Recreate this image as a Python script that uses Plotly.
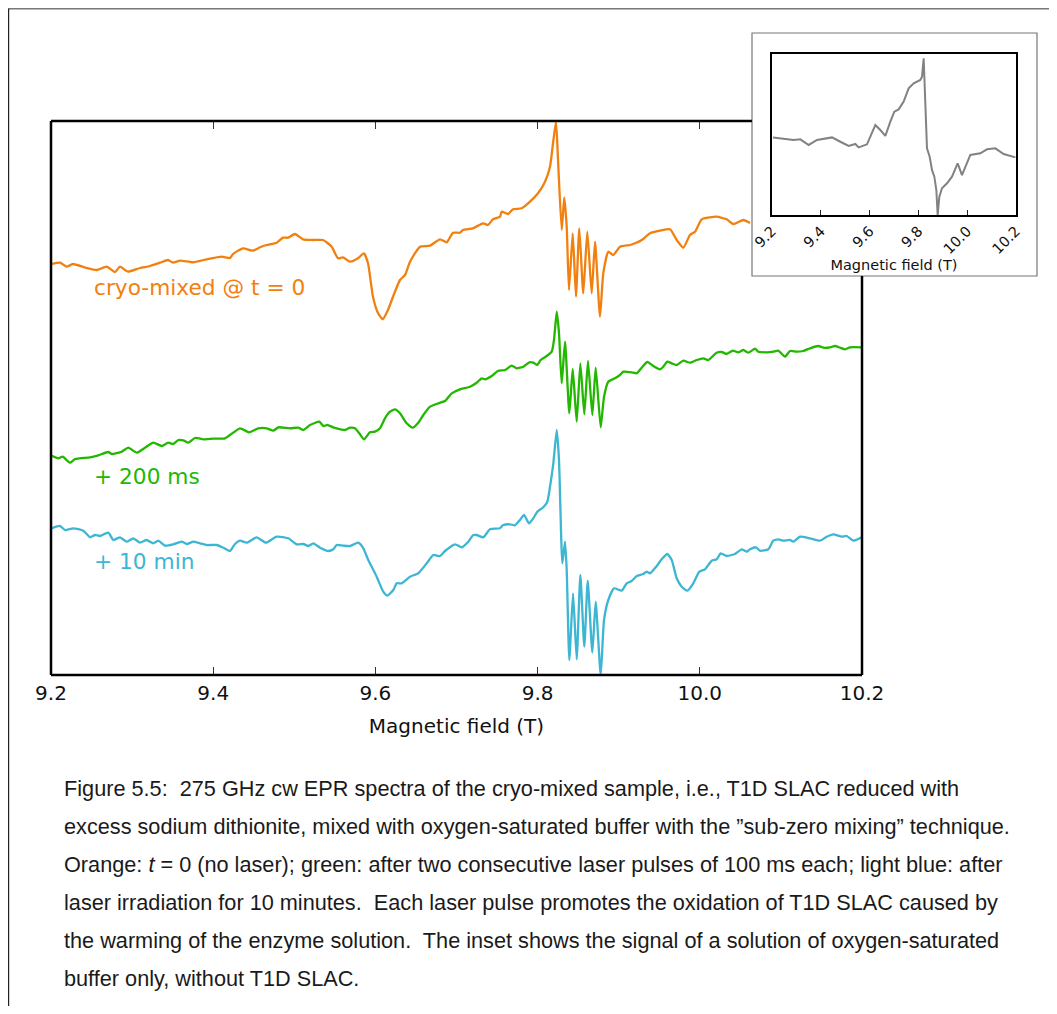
import plotly.graph_objects as go

# The page has an 8 px body margin; the figure is sized to fill the rest of the
# 1057x1014 window exactly, spanning page pixels 8..1049 and 8..1006.
FW, FH, OFF = 1041, 998, 8


def px(x):
    return (x - OFF) / FW


def py(y):
    return 1 - (y - OFF) / FH


# ---------------- data (field in T, signal in arbitrary units) ----------------
field_orange = [9.2009, 9.2111, 9.2194, 9.2271, 9.2440, 9.2564, 9.2687, 9.2789, 9.2851, 9.2949,
                9.3097, 9.3221, 9.3344, 9.3443, 9.3504, 9.3591, 9.3751, 9.3920, 9.4105, 9.4207,
                9.4244, 9.4367, 9.4491, 9.4577, 9.4660, 9.4783, 9.4861, 9.4922, 9.5009, 9.5107,
                9.5231, 9.5354, 9.5461, 9.5539, 9.5600, 9.5687, 9.5785, 9.5859, 9.5909, 9.5970,
                9.6032, 9.6090, 9.6155, 9.6217, 9.6303, 9.6365, 9.6427, 9.6550, 9.6673, 9.6797,
                9.6879, 9.6957, 9.7043, 9.7080, 9.7203, 9.7327, 9.7388, 9.7450, 9.7536, 9.7557,
                9.7635, 9.7697, 9.7804, 9.7906, 9.8005, 9.8091, 9.8153, 9.8190, 9.8227, 9.8252,
                9.8297, 9.8329, 9.8359, 9.8387, 9.8433, 9.8473, 9.8514, 9.8563, 9.8613, 9.8667,
                9.8708, 9.8769, 9.8810, 9.8872, 9.8933, 9.9016, 9.9139, 9.9201, 9.9284, 9.9386,
                9.9509, 9.9633, 9.9715, 9.9797, 9.9879, 9.9941, 10.0023, 10.0126, 10.0208, 10.0332,
                10.0413, 10.0536, 10.0619]
sig_orange = [4.110, 4.123, 4.083, 4.110, 4.070, 4.050, 4.083, 4.030, 4.083, 4.033,
              4.070, 4.090, 4.123, 4.150, 4.123, 4.143, 4.127, 4.157, 4.183, 4.170,
              4.210, 4.267, 4.243, 4.277, 4.300, 4.323, 4.373, 4.373, 4.410, 4.357,
              4.350, 4.350, 4.283, 4.167, 4.177, 4.133, 4.167, 4.217, 4.117, 3.783,
              3.620, 3.557, 3.650, 3.783, 3.950, 4.000, 4.133, 4.283, 4.293, 4.357,
              4.327, 4.423, 4.423, 4.450, 4.467, 4.517, 4.500, 4.557, 4.583, 4.633,
              4.610, 4.657, 4.667, 4.733, 4.817, 4.933, 5.083, 5.317, 5.533, 5.150,
              4.450, 4.777, 4.483, 3.850, 4.417, 3.783, 4.467, 3.817, 4.433, 3.817,
              4.333, 3.583, 4.017, 4.233, 4.200, 4.283, 4.300, 4.317, 4.350, 4.417,
              4.443, 4.457, 4.350, 4.273, 4.400, 4.433, 4.557, 4.577, 4.583, 4.557,
              4.510, 4.550, 4.520]

field_green = [9.2009, 9.2090, 9.2144, 9.2234, 9.2296, 9.2481, 9.2583, 9.2707, 9.2748, 9.2872,
               9.2953, 9.3057, 9.3159, 9.3261, 9.3365, 9.3446, 9.3508, 9.3570, 9.3631, 9.3693,
               9.3776, 9.3878, 9.4001, 9.4146, 9.4330, 9.4445, 9.4556, 9.4660, 9.4741, 9.4803,
               9.4947, 9.5049, 9.5111, 9.5194, 9.5308, 9.5358, 9.5407, 9.5481, 9.5625, 9.5687,
               9.5748, 9.5801, 9.5859, 9.5933, 9.5995, 9.6057, 9.6118, 9.6180, 9.6242, 9.6303,
               9.6386, 9.6460, 9.6529, 9.6591, 9.6673, 9.6776, 9.6858, 9.6941, 9.7043, 9.7166,
               9.7249, 9.7311, 9.7351, 9.7434, 9.7515, 9.7598, 9.7681, 9.7742, 9.7824, 9.7898,
               9.7947, 9.7996, 9.8038, 9.8112, 9.8174, 9.8202, 9.8236, 9.8264, 9.8297, 9.8338,
               9.8391, 9.8433, 9.8482, 9.8527, 9.8576, 9.8621, 9.8675, 9.8716, 9.8778, 9.8819,
               9.8872, 9.8954, 9.9016, 9.9057, 9.9160, 9.9222, 9.9284, 9.9353, 9.9427, 9.9509,
               9.9550, 9.9599, 9.9654, 9.9715, 9.9797, 9.9879, 9.9962, 10.0043, 10.0105, 10.0208,
               10.0270, 10.0332, 10.0406, 10.0475, 10.0536, 10.0598, 10.0681, 10.0721, 10.0825, 10.0906,
               10.0968, 10.1051, 10.1112, 10.1195, 10.1276, 10.1359, 10.1461, 10.1523, 10.1606, 10.1667,
               10.1729, 10.1791, 10.1852, 10.1996]
sig_green = [2.193, 2.167, 2.183, 2.123, 2.160, 2.177, 2.197, 2.230, 2.210, 2.233,
             2.273, 2.223, 2.273, 2.323, 2.290, 2.323, 2.310, 2.350, 2.347, 2.323,
             2.370, 2.357, 2.363, 2.367, 2.467, 2.427, 2.467, 2.467, 2.443, 2.477,
             2.467, 2.473, 2.450, 2.500, 2.533, 2.490, 2.500, 2.477, 2.450, 2.473,
             2.467, 2.417, 2.357, 2.427, 2.433, 2.467, 2.567, 2.633, 2.657, 2.617,
             2.517, 2.473, 2.523, 2.600, 2.683, 2.717, 2.740, 2.817, 2.857, 2.883,
             2.923, 2.967, 2.957, 2.990, 3.043, 3.050, 3.093, 3.067, 3.083, 3.127,
             3.123, 3.100, 3.150, 3.190, 3.233, 3.350, 3.633, 3.417, 2.917, 3.333,
             2.617, 3.060, 2.533, 3.117, 2.607, 3.140, 2.600, 3.073, 2.477, 2.783,
             2.933, 2.967, 3.000, 3.033, 3.027, 3.017, 3.073, 3.130, 3.090, 3.057,
             3.083, 3.133, 3.117, 3.100, 3.143, 3.123, 3.150, 3.167, 3.150, 3.223,
             3.230, 3.210, 3.243, 3.227, 3.250, 3.223, 3.263, 3.233, 3.227, 3.233,
             3.243, 3.183, 3.240, 3.233, 3.240, 3.267, 3.290, 3.273, 3.277, 3.290,
             3.273, 3.257, 3.277, 3.277]

field_blue = [9.2009, 9.2111, 9.2173, 9.2275, 9.2398, 9.2481, 9.2543, 9.2604, 9.2707, 9.2768,
              9.2851, 9.2933, 9.3015, 9.3097, 9.3180, 9.3261, 9.3323, 9.3406, 9.3508, 9.3612,
              9.3673, 9.3755, 9.3837, 9.3920, 9.4043, 9.4125, 9.4207, 9.4269, 9.4330, 9.4413,
              9.4536, 9.4651, 9.4783, 9.4926, 9.5030, 9.5111, 9.5173, 9.5234, 9.5317, 9.5419,
              9.5481, 9.5523, 9.5604, 9.5687, 9.5789, 9.5851, 9.5912, 9.6016, 9.6097, 9.6147,
              9.6221, 9.6263, 9.6324, 9.6427, 9.6529, 9.6633, 9.6714, 9.6797, 9.6858, 9.6982,
              9.7064, 9.7146, 9.7207, 9.7249, 9.7331, 9.7413, 9.7536, 9.7577, 9.7660, 9.7721,
              9.7783, 9.7832, 9.7894, 9.7947, 9.7996, 9.8070, 9.8120, 9.8153, 9.8194, 9.8236,
              9.8264, 9.8305, 9.8338, 9.8359, 9.8391, 9.8437, 9.8482, 9.8527, 9.8576, 9.8618,
              9.8675, 9.8716, 9.8778, 9.8819, 9.8872, 9.8942, 9.9037, 9.9099, 9.9160, 9.9222,
              9.9303, 9.9345, 9.9386, 9.9469, 9.9530, 9.9599, 9.9654, 9.9715, 9.9777, 9.9846,
              9.9920, 9.9994, 10.0064, 10.0147, 10.0208, 10.0258, 10.0332, 10.0434, 10.0517, 10.0578,
              10.0619, 10.0693, 10.0742, 10.0845, 10.0906, 10.0968, 10.1030, 10.1112, 10.1153, 10.1236,
              10.1359, 10.1482, 10.1565, 10.1646, 10.1750, 10.1812, 10.1894, 10.1996]
sig_blue = [1.467, 1.490, 1.450, 1.467, 1.443, 1.377, 1.400, 1.390, 1.423, 1.350,
            1.377, 1.333, 1.367, 1.323, 1.350, 1.317, 1.343, 1.293, 1.307, 1.333,
            1.310, 1.333, 1.317, 1.300, 1.300, 1.273, 1.240, 1.310, 1.343, 1.323,
            1.377, 1.323, 1.383, 1.367, 1.307, 1.310, 1.290, 1.317, 1.273, 1.240,
            1.257, 1.300, 1.293, 1.290, 1.323, 1.267, 1.150, 0.983, 0.833, 0.793,
            0.850, 0.917, 0.917, 0.983, 1.017, 1.117, 1.200, 1.190, 1.240, 1.307,
            1.277, 1.333, 1.400, 1.400, 1.377, 1.457, 1.467, 1.500, 1.507, 1.497,
            1.550, 1.600, 1.517, 1.567, 1.633, 1.677, 1.733, 1.883, 2.117, 2.450,
            2.150, 1.117, 1.333, 1.050, 0.150, 0.817, 0.157, 1.000, 0.283, 0.943,
            0.223, 0.733, 0.000, 0.550, 0.750, 0.867, 0.843, 0.917, 0.940, 0.990,
            1.010, 1.033, 1.017, 1.090, 1.157, 1.210, 1.150, 0.967, 0.883, 0.843,
            0.917, 1.033, 1.057, 1.143, 1.157, 1.217, 1.190, 1.210, 1.257, 1.233,
            1.257, 1.277, 1.243, 1.257, 1.343, 1.357, 1.343, 1.350, 1.333, 1.383,
            1.367, 1.343, 1.383, 1.407, 1.383, 1.390, 1.343, 1.377]

field_inset = [9.2041, 9.2478, 9.2888, 9.3161, 9.3503, 9.3844, 9.4459, 9.4801, 9.5142, 9.5415,
               9.5552, 9.5893, 9.6030, 9.6235, 9.6440, 9.6645, 9.6850, 9.7014, 9.7191, 9.7396,
               9.7601, 9.7806, 9.8079, 9.8148, 9.8216, 9.8270, 9.8352, 9.8462, 9.8557, 9.8653,
               9.8735, 9.8790, 9.8858, 9.8967, 9.9172, 9.9377, 9.9514, 9.9609, 9.9787, 9.9992,
               10.0128, 10.0538, 10.0811, 10.1153, 10.1495, 10.1973]
sig_inset = [0.482, 0.476, 0.466, 0.470, 0.435, 0.466, 0.482, 0.455, 0.429, 0.441,
             0.420, 0.439, 0.487, 0.559, 0.528, 0.491, 0.580, 0.642, 0.656, 0.704,
             0.787, 0.818, 0.839, 0.859, 0.973, 0.787, 0.414, 0.362, 0.280, 0.238,
             0.155, 0.000, 0.114, 0.166, 0.197, 0.238, 0.290, 0.321, 0.248, 0.331,
             0.373, 0.383, 0.408, 0.414, 0.379, 0.358]

tick_vals = [9.2, 9.4, 9.6, 9.8, 10.0, 10.2]
tick_text = ["9.2", "9.4", "9.6", "9.8", "10.0", "10.2"]

series_labels = ["cryo-mixed @ t = 0", "+ 200 ms", "+ 10 min"]

caption_lines = [
    "Figure 5.5:  275 GHz cw EPR spectra of the cryo-mixed sample, i.e., T1D SLAC reduced with",
    "excess sodium dithionite, mixed with oxygen-saturated buffer with the \u201dsub-zero mixing\u201d technique.",
    "Orange: <i>t</i> = 0 (no laser); green: after two consecutive laser pulses of 100 ms each; light blue: after",
    "laser irradiation for 10 minutes.  Each laser pulse promotes the oxidation of T1D SLAC caused by",
    "the warming of the enzyme solution.  The inset shows the signal of a solution of oxygen-saturated",
    "buffer only, without T1D SLAC.",
]

ORANGE = "#f2800f"
GREEN = "#22b800"
BLUE = "#3db6d3"
GRAY = "#828282"

AX_FONT = "DejaVu Sans"
CAP_FONT = "Liberation Sans"

fig = go.Figure()
for fx, sy, col in [(field_orange, sig_orange, ORANGE),
                    (field_green, sig_green, GREEN),
                    (field_blue, sig_blue, BLUE)]:
    fig.add_trace(go.Scatter(x=fx, y=sy, mode="lines",
                             line=dict(color=col, width=2.3, shape="spline", smoothing=0.5),
                             xaxis="x", yaxis="y", showlegend=False, hoverinfo="skip"))
fig.add_trace(go.Scatter(x=field_inset, y=sig_inset, mode="lines", line=dict(color=GRAY, width=2),
                         xaxis="x2", yaxis="y2", showlegend=False, hoverinfo="skip"))

# main plot area (page pixels): x 51..862, y 121..675
# inset plot area: x 772..1016, y 54..215
fig.update_layout(
    width=FW, height=FH, autosize=False,
    margin=dict(l=0, r=0, t=0, b=0, pad=0, autoexpand=False),
    paper_bgcolor="white", plot_bgcolor="white",
    xaxis=dict(domain=[px(51), px(862)], range=[9.2, 10.2], tickvals=tick_vals, ticktext=tick_text,
               ticks="inside", ticklen=8, tickwidth=1.2, tickcolor="#333", mirror="ticks",
               showline=False, showgrid=False, zeroline=False, anchor="y", automargin=False,
               tickfont=dict(family=AX_FONT, size=20, color="#111"), ticklabelstandoff=4,
               title=dict(text="Magnetic field (T)", font=dict(family=AX_FONT, size=20, color="#111"),
                          standoff=14)),
    yaxis=dict(domain=[py(675), py(121)], range=[0, 5.54], showticklabels=False, ticks="",
               showgrid=False, zeroline=False, showline=False, anchor="x", automargin=False),
    xaxis2=dict(domain=[px(772), px(1016)], range=[9.2, 10.2], tickvals=tick_vals, ticktext=tick_text,
                tickangle=-45, ticks="inside", ticklen=5, tickwidth=1, tickcolor="#222",
                showline=True, mirror=True, linewidth=2, linecolor="black",
                showgrid=False, zeroline=False, anchor="y2", automargin=False,
                tickfont=dict(family=AX_FONT, size=14.5, color="#111"),
                title=dict(text="Magnetic field (T)", font=dict(family=AX_FONT, size=14.5, color="#111"),
                           standoff=4)),
    yaxis2=dict(domain=[py(215), py(54)], range=[0, 1], showticklabels=False, ticks="",
                showline=True, mirror=True, linewidth=2, linecolor="black",
                showgrid=False, zeroline=False, anchor="x2", automargin=False),
)

shapes = [
    # page frame
    dict(type="line", xref="paper", yref="paper", x0=px(8.5), x1=1, y0=py(8.8), y1=py(8.8),
         line=dict(color="#777", width=1.6)),
    dict(type="line", xref="paper", yref="paper", x0=px(8.6), x1=px(8.6), y0=py(8.5), y1=0,
         line=dict(color="#222", width=1.2)),
    # inset box
    dict(type="rect", xref="paper", yref="paper", x0=px(752), x1=px(1037), y0=py(276), y1=py(33),
         line=dict(color="#777", width=1.2), fillcolor="white", layer="below"),
    # main frame (partly hidden behind the inset)
    dict(type="line", xref="paper", yref="paper", x0=px(51), x1=px(51), y0=py(121), y1=py(675),
         line=dict(color="black", width=2.5)),
    dict(type="line", xref="paper", yref="paper", x0=px(51), x1=px(862), y0=py(675), y1=py(675),
         line=dict(color="black", width=2.5)),
    dict(type="line", xref="paper", yref="paper", x0=px(51), x1=px(752), y0=py(121), y1=py(121),
         line=dict(color="black", width=2.5)),
    dict(type="line", xref="paper", yref="paper", x0=px(862), x1=px(862), y0=py(276), y1=py(675),
         line=dict(color="black", width=2.5)),
]
fig.update_layout(shapes=shapes)

annotations = []
for text, col, yc in zip(series_labels, [ORANGE, GREEN, BLUE], [287, 476, 561]):
    annotations.append(dict(text=text, x=px(92), y=py(yc), xref="paper", yref="paper",
                            xanchor="left", yanchor="middle", showarrow=False,
                            font=dict(family=AX_FONT, size=21.7, color=col)))
for i, line in enumerate(caption_lines):
    annotations.append(dict(text=line, x=px(62), y=py(788 + 38 * i), xref="paper", yref="paper",
                            xanchor="left", yanchor="middle", showarrow=False,
                            font=dict(family=CAP_FONT, size=21.7, color="#1a1a1a")))
fig.update_layout(annotations=annotations)

fig.write_html("out.html")
